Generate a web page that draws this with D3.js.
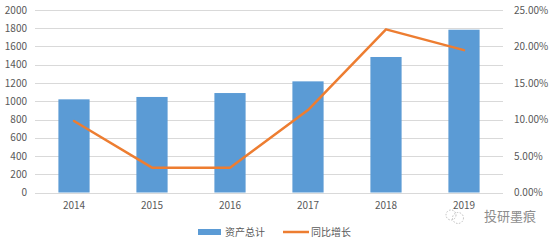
<!DOCTYPE html>
<html><head><meta charset="utf-8">
<script src="https://cdn.jsdelivr.net/npm/d3@7"></script>
<style>body{margin:0;background:#fff}svg{display:block}</style>
</head><body>
<script>
const categories = ["2014","2015","2016","2017","2018","2019"];
const assets = [1021, 1047, 1090, 1218, 1485, 1784];
const growth = [0.098, 0.034, 0.034, 0.113, 0.2235, 0.195];
const leftTicks = [0,200,400,600,800,1000,1200,1400,1600,1800,2000];
const rightTicks = [0,0.05,0.10,0.15,0.20,0.25];
const seriesNames = ["资产总计","同比增长"];

const W=554,H=246;
const svg=d3.select("body").append("svg").attr("width",W).attr("height",H);
const x0=35,x1=503,yTop=10,yBot=192.5;
const x=d3.scaleBand().domain(categories).range([x0,x1]).paddingInner(0.6).paddingOuter(0.3);
const yL=d3.scaleLinear().domain([0,2000]).range([yBot,yTop]);
const yR=d3.scaleLinear().domain([0,0.25]).range([yBot,yTop]);
const font="'Microsoft YaHei','Noto Sans CJK SC','Liberation Sans',sans-serif";

// grid
svg.append("g").selectAll("line").data(leftTicks).join("line")
  .attr("x1",x0).attr("x2",x1).attr("y1",d=>Math.round(yL(d))+0.5).attr("y2",d=>Math.round(yL(d))+0.5)
  .attr("stroke","#d9d9d9").attr("stroke-width",1);

// left axis
const ax=d3.axisLeft(yL).tickValues(leftTicks).tickSize(0).tickPadding(0).tickFormat(d3.format("d"));
const gl=svg.append("g").attr("transform",`translate(27,0)`).call(ax);
gl.select(".domain").remove();
gl.selectAll("text").attr("fill","#595959").style("font-family",font).style("font-size","10px");

// right axis
const ar=d3.axisRight(yR).tickValues(rightTicks).tickSize(0).tickPadding(0).tickFormat(d=>(d*100).toFixed(2)+"%");
const gr=svg.append("g").attr("transform",`translate(514,0)`).call(ar);
gr.select(".domain").remove();
gr.selectAll("text").attr("fill","#595959").style("font-family",font).style("font-size","10px");

// bars
svg.append("g").selectAll("rect").data(assets).join("rect")
  .attr("x",(d,i)=>x(categories[i])).attr("width",x.bandwidth())
  .attr("y",d=>yL(d)).attr("height",d=>yBot-yL(d)).attr("fill","#5b9bd5");

// x labels
const axB=d3.axisBottom(x).tickSize(0).tickPadding(0);
const gb=svg.append("g").attr("transform",`translate(0,${yBot+9})`).call(axB);
gb.select(".domain").remove();
gb.selectAll("text").attr("fill","#595959").style("font-family",font).style("font-size","10px");

// line
const line=d3.line().x((d,i)=>x(categories[i])+x.bandwidth()/2).y(d=>yR(d));
svg.append("path").datum(growth).attr("d",line).attr("fill","none")
  .attr("stroke","#ed7d31").attr("stroke-width",2.5).attr("stroke-linejoin","round").attr("stroke-linecap","round");

// legend
const lg=svg.append("g");
lg.append("rect").attr("x",198).attr("y",229).attr("width",23).attr("height",6).attr("fill","#5b9bd5");
lg.append("text").attr("x",225).attr("y",236).text(seriesNames[0]).attr("fill","#595959").style("font-family",font).style("font-size","10px");
lg.append("line").attr("x1",283).attr("x2",309).attr("y1",232).attr("y2",232).attr("stroke","#ed7d31").attr("stroke-width",2.5);
lg.append("text").attr("x",311).attr("y",236).text(seriesNames[1]).attr("fill","#595959").style("font-family",font).style("font-size","10px");

// watermark
const wm=svg.append("g").attr("opacity",0.75);
wm.append("circle").attr("cx",451).attr("cy",215).attr("r",5).attr("fill","none").attr("stroke","#aaa").attr("stroke-dasharray","1.5,1.5");
wm.append("circle").attr("cx",458).attr("cy",218).attr("r",5.5).attr("fill","none").attr("stroke","#aaa").attr("stroke-dasharray","1.5,1.5");
wm.append("text").attr("x",484).attr("y",221).text("投研墨痕").attr("fill","#666").style("font-family",font).style("font-size","13px");
</script>
</body></html>
